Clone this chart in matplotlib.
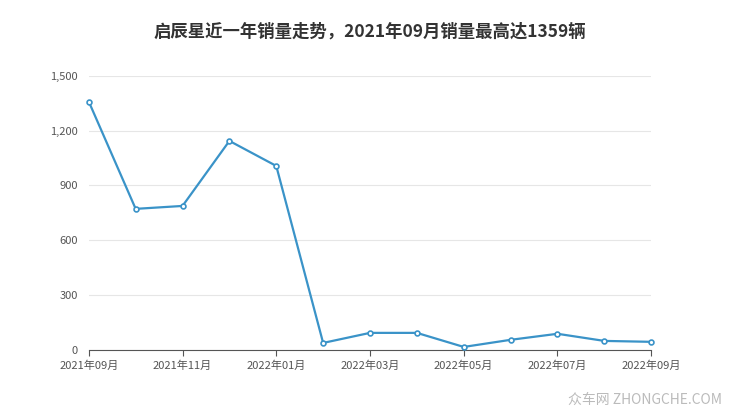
import matplotlib.pyplot as plt

plt.rcParams['font.family'] = ['Noto Sans CJK SC', 'DejaVu Sans']

months = ["2021年09月", "2021年10月", "2021年11月", "2021年12月", "2022年01月", "2022年02月",
          "2022年03月", "2022年04月", "2022年05月", "2022年06月", "2022年07月", "2022年08月", "2022年09月"]
sales = [1359, 772, 788, 1144, 1007, 38, 93, 93, 16, 55, 88, 49, 44]
yticks = [0, 300, 600, 900, 1200, 1500]

fig = plt.figure(figsize=(7.4, 4.17), dpi=100)
ax = fig.add_axes([0.12, 0.161, 0.76, 0.657])

x = list(range(len(months)))
ax.plot(x, sales, color='#3a93c8', linewidth=1.6, marker='o', markersize=3.5,
        markerfacecolor='white', markeredgecolor='#3a93c8', markeredgewidth=1.2, clip_on=False, zorder=3)

ax.set_xlim(0, len(months) - 1)
ax.set_ylim(0, 1500)
ax.set_yticks(yticks)
ax.set_yticklabels([f"{v:,}" for v in yticks])
ax.set_xticks(x[::2])
ax.set_xticklabels(months[::2])
ax.grid(axis='y', color='#e6e6e6', linewidth=0.8)
for s in ['top', 'right', 'left']:
    ax.spines[s].set_visible(False)
ax.spines['bottom'].set_color('#555555')
ax.tick_params(axis='y', length=0, labelsize=8, colors='#555555', pad=8)
ax.tick_params(axis='x', length=4, labelsize=8, colors='#555555', color='#555555')

fig.text(0.5, 0.925, "启辰星近一年销量走势，2021年09月销量最高达1359辆", ha='center', va='center',
         fontsize=12.5, fontweight='bold', color='#333333')
fig.text(0.975, 0.04, "众车网 ZHONGCHE.COM", ha='right', va='center', fontsize=10, color='#bbbbbb')

fig.savefig("out.png", dpi=100)
